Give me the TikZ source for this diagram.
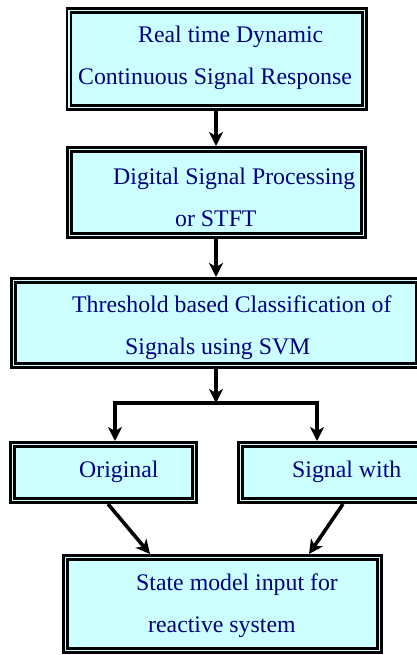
\documentclass[tikz,border=0pt]{standalone}
\usepackage{fontspec}
\setmainfont{Liberation Serif}
\usetikzlibrary{arrows.meta,calc}
\definecolor{boxfill}{HTML}{CCFFFF}
\definecolor{navytext}{RGB}{0,0,128}
\tikzset{
  dbox/.style={draw=black, fill=boxfill, line width=2.6pt, double=boxfill,
    double distance=1.4pt, rectangle, inner sep=0pt, outer sep=3.3pt},
  lbl/.style={anchor=base west, inner sep=0pt, text=navytext,
    font=\rmfamily\fontsize{23.8}{28}\selectfont},
  arr/.style={line width=3.6pt, -{Stealth[length=14pt,width=14pt,inset=4pt]}},
  seg/.style={line width=3.6pt}
}
\begin{document}
\begin{tikzpicture}[x=1pt,y=-1pt]
\useasboundingbox (0,0) rectangle (417,655);
% boxes (path inset 3.3pt from the outer edge)
\node[dbox, minimum width=295.4pt, minimum height=97.4pt] (b1) at (216.5,59) {};
\node[dbox, minimum width=294.4pt, minimum height=86.4pt] (b2) at (216.5,192.5) {};
\node[dbox, minimum width=405.4pt, minimum height=85.4pt] (b3) at (216,323) {};
\node[dbox, minimum width=182.4pt, minimum height=56.4pt] (b4) at (103.5,472.5) {};
\node[dbox, minimum width=182.4pt, minimum height=56.4pt] (b5) at (331.5,472.5) {};
\node[dbox, minimum width=314.4pt, minimum height=93.4pt] (b6) at (222.5,604) {};
% texts
\node[lbl] (t1a) at (138,43) {Real time Dynamic};
\node[lbl] (t1b) at (78,85) {Continuous Signal Response};
\node[lbl] (t2a) at (113,184) {Digital Signal Processing};
\node[lbl] (t2b) at (175,226) {or STFT};
\node[lbl] (t3a) at (72,312) {Threshold based Classification of};
\node[lbl] (t3b) at (125,354) {Signals using SVM};
\node[lbl] (t4) at (79,477) {Original};
\node[lbl] (t5) at (292,477) {Signal with};
\node[lbl] (t6a) at (136,590) {State model input for};
\node[lbl] (t6b) at (148,632) {reactive system};
% connectors
\coordinate (j) at (216,403);
\coordinate (jl) at (115,403);
\coordinate (jr) at (317,403);
\draw[arr] (b1.south -| j) -- (b2.north -| j);
\draw[arr] (b2.south -| j) -- (b3.north -| j);
\draw[arr] (b3.south -| j) -- (j);
\draw[seg, line cap=rect] (jl) -- (jr);
\draw[arr] (jl) -- (jl |- b4.north);
\draw[arr] (jr) -- (jr |- b5.north);
\draw[arr] ([xshift=4.5pt]b4.south) -- ([xshift=-72.5pt]b6.north);
\draw[arr] ([xshift=11.5pt]b5.south) -- ([xshift=86.5pt]b6.north);
\end{tikzpicture}
\end{document}
